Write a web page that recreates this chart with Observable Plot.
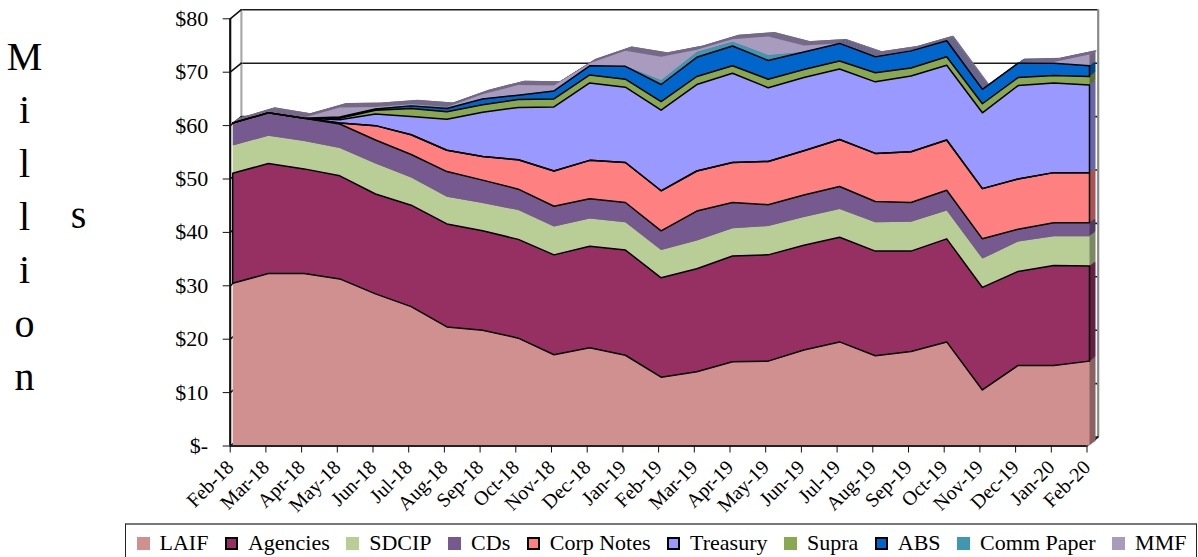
<!DOCTYPE html>
<html>
<head>
<meta charset="utf-8">
<script src="https://cdn.jsdelivr.net/npm/d3@7"></script>
<script src="https://cdn.jsdelivr.net/npm/@observablehq/plot@0.6"></script>
<style>
html,body{margin:0;padding:0;background:#fff;overflow:hidden;width:1198px;height:557px;font-family:"Liberation Serif",serif;color:#000}
#legend{box-sizing:border-box;margin-left:125px;width:1072px;height:60px;border:1.5px solid #222;border-top:2px solid #777;display:flex;align-items:flex-start;padding:5px 0 0 10.5px;gap:16.5px;font-size:22px;line-height:26px}
.item{display:flex;align-items:center;gap:10px;white-space:nowrap}
.sw{width:13px;height:13px;box-sizing:border-box;display:inline-block}
</style>
</head>
<body>
<div id="chart"></div>
<div id="legend"></div>
<script>
const months = ["Feb-18","Mar-18","Apr-18","May-18","Jun-18","Jul-18","Aug-18","Sep-18","Oct-18","Nov-18","Dec-18","Jan-19","Feb-19","Mar-19","Apr-19","May-19","Jun-19","Jul-19","Aug-19","Sep-19","Oct-19","Nov-19","Dec-19","Jan-20","Feb-20"];
const seriesNames = ["LAIF","Agencies","SDCIP","CDs","Corp Notes","Treasury","Supra","ABS","Comm Paper","MMF"];
const seriesColors = ["#D09090","#963063","#B9CD96","#75598F","#FF8080","#9999FF","#8AA84F","#0066CC","#3F97B0","#A99BBD"];
const outlined = ["Agencies","Corp Notes","Treasury","ABS"];
const LAIF = [30.4,32.2,32.2,31.2,28.4,26.0,22.2,21.6,20.1,17.0,18.3,16.9,12.8,13.8,15.7,15.8,17.9,19.4,16.8,17.6,19.4,10.4,15.0,15.0,15.8];
const Agencies = [20.6,20.6,19.6,19.3,18.7,19.0,19.3,18.6,18.5,18.7,19.0,19.7,18.6,19.3,19.8,19.9,19.6,19.6,19.6,18.8,19.3,19.2,17.6,18.7,17.8];
const SDCIP = [5.2,5.2,5.2,5.2,5.7,5.2,5.1,5.2,5.5,5.3,5.2,5.2,5.2,5.3,5.2,5.4,5.3,5.3,5.4,5.5,5.3,5.4,5.6,5.5,5.6];
const CDs = [4.2,4.3,4.3,4.5,4.4,4.3,4.7,4.3,3.9,3.8,3.7,3.7,3.6,5.5,4.8,4.0,4.1,4.2,3.9,3.6,3.8,3.7,2.3,2.5,2.5];
const CorpNotes = [0,0,0,0.2,2.7,3.7,4.0,4.4,5.5,6.6,7.2,7.5,7.5,7.5,7.5,8.1,8.3,8.8,9.0,9.5,9.4,9.4,9.4,9.4,9.4];
const Treasury = [0,0,0,0.6,2.2,3.4,5.8,8.3,9.8,12.0,14.5,14.1,15.1,16.2,16.7,13.8,13.7,13.2,13.4,14.2,14.0,14.2,17.5,16.8,16.4];
const Supra = [0,0,0,0.3,0.7,1.5,1.4,1.4,1.5,1.5,1.5,1.5,1.6,1.5,1.4,1.6,1.5,1.5,1.7,1.5,1.6,1.7,1.5,1.4,1.6];
const ABS = [0,0,0,0.2,0.2,0.5,0.6,1.1,0.8,1.5,1.7,2.4,3.2,3.6,3.7,3.5,3.3,3.3,3.0,3.2,3.0,2.7,2.7,2.3,2.0];
const CommPaper = [0,0,0,0,0.1,0.1,0.2,0.1,0.1,0.1,0,0,0.8,1.0,0.8,1.0,0,0,0,0,0,0,0,0,0];
const MMF = [0.1,0.2,0.1,1.8,0.3,0.2,0.1,0.8,1.8,0.9,0.5,2.9,4.4,0.4,0.5,3.5,1.2,0,0.2,0.1,0.1,0.1,0,0.2,2.1];
const yTicks = [0,10,20,30,40,50,60,70,80];

const seriesValues = [LAIF,Agencies,SDCIP,CDs,CorpNotes,Treasury,Supra,ABS,CommPaper,MMF];
const rows = seriesNames.flatMap((name,s) => months.map((m,i) => ({month:m, series:name, value:seriesValues[s][i]})));
const colorOf = Object.fromEntries(seriesNames.map((n,i)=>[n,seriesColors[i]]));
const shadeOf = n => d3.rgb(colorOf[n]).darker(1.15).formatHex();

const DEPTH = 6, SLOPE = 0.72;
const BACK_DX = 8.2, BACK_DY = -9, AXIS_DX = -3;
const noScale = f => ({value:f, scale:null});
const stacked = o => Plot.stackY({x:"month", y:"value", z:"series", order:null, ...o});
const stackedTop = o => Plot.stackY2({x:"month", y:"value", z:"series", order:null, ...o});

const stubShape = {draw(ctx,l){ctx.moveTo(0,0);ctx.lineTo(0,-l);}};

const extrusion = [];
for (let k = DEPTH; k >= 1; k--) {
  extrusion.push(Plot.areaY(rows, stacked({fill:noScale(d=>shadeOf(d.series)), dx:k, dy:-k*SLOPE})));
  extrusion.push(Plot.line(rows, stackedTop({stroke:noScale(d=>d.series==="MMF"?"#776B8B":"none"), strokeWidth:1.2, dx:k, dy:-k*SLOPE})));
}

const chart = Plot.plot({
  width:1198, height:523,
  marginLeft:232.7, marginRight:108.5, marginTop:18.3, marginBottom:77.5,
  style:{fontFamily:"'Liberation Serif',serif", background:"#fff", color:"#000"},
  x:{type:"point", domain:months, padding:0, round:false, axis:null},
  y:{domain:[0,80], axis:null},
  marks:[
    Plot.ruleY(yTicks,{x1:()=>months[0], x2:()=>months[24], dx:BACK_DX, dy:BACK_DY, stroke:"#1c1c1c", strokeWidth:1.6}),
    Plot.ruleX([months[0]],{y1:0, y2:80, dx:BACK_DX, dy:BACK_DY, stroke:"#aaa", strokeWidth:2.2}),
    Plot.ruleX([months[24]],{y1:0, y2:80, dx:BACK_DX, dy:BACK_DY, stroke:"#8a8a8a", strokeWidth:2.2}),
    Plot.vector(yTicks,{x:()=>months[0], y:d=>d, length:14.4, rotate:51, anchor:"start", shape:stubShape, dx:AXIS_DX, stroke:"#111", strokeWidth:1.6}),
    Plot.vector([0],{x:()=>months[24], y:d=>d, length:14.4, rotate:51, anchor:"start", shape:stubShape, dx:AXIS_DX, stroke:"#111", strokeWidth:1.6}),
    ...extrusion,
    Plot.areaY(rows, stacked({fill:noScale(d=>colorOf[d.series])})),
    Plot.areaY(rows, stacked({fill:"none", stroke:noScale(d=>outlined.includes(d.series)?"#000":"none"), strokeWidth:1.5})),
    Plot.ruleY([0],{x1:()=>months[0], x2:()=>months[24], dx:AXIS_DX, stroke:"#222", strokeWidth:2.2}),
    Plot.ruleX([months[0]],{y1:0, y2:80, dx:AXIS_DX, stroke:"#111", strokeWidth:2.2}),
    Plot.axisY({ticks:yTicks, tickFormat:d=>d===0?"$-":"$"+d, tickSize:7, tickPadding:15, dx:AXIS_DX, fontSize:22, label:null, fontFamily:"'Liberation Serif',serif", fill:"#000", stroke:"#111"}),
    Plot.axisX({tickRotate:-45, tickSize:7, tickPadding:11, dx:AXIS_DX, fontSize:20, label:null, fontFamily:"'Liberation Serif',serif", fill:"#000", stroke:"#111"}),
    Plot.text(["M\ni\nl\nl\ni\no\nn"],{text:d=>d, frameAnchor:"top-left", lineAnchor:"top", textAnchor:"middle", lineHeight:1.335, fontSize:40, dx:-208.7, dy:13, fill:"#000"}),
    Plot.text(["s"],{text:d=>d, frameAnchor:"top-left", lineAnchor:"top", textAnchor:"middle", fontSize:40, dx:-154.7, dy:181, fill:"#000"})
  ]
});
document.getElementById("chart").appendChild(chart);
chart.style.display="block";

const legend = d3.select("#legend");
seriesNames.forEach((n,i)=>{
  const item = legend.append("div").attr("class","item");
  item.append("span").attr("class","sw").style("background",seriesColors[i])
    .style("border",outlined.includes(n)?"2px solid #000":"none");
  item.append("span").text(n);
});
</script>
</body>
</html>
